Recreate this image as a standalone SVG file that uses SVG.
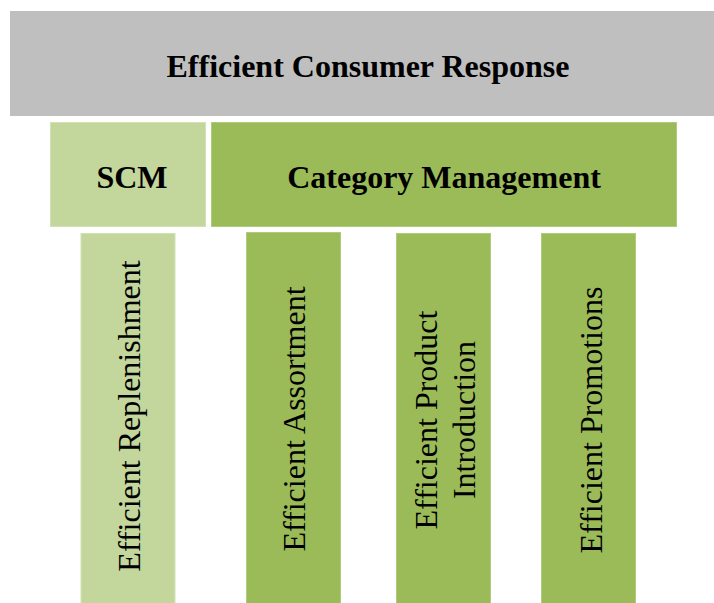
<svg xmlns="http://www.w3.org/2000/svg" width="714" height="603" viewBox="0 0 714 603">
  <style>
    .gray { fill: #BFBFBF; }
    .light { fill: #C3D69B; stroke: #d3e2b4; stroke-width: 1; }
    .green { fill: #9BBB59; stroke: #b0cb7c; stroke-width: 1; }
    .head { font-family: "Liberation Serif", "Times New Roman", serif; font-weight: bold; font-size: 32px; fill: #000; text-anchor: middle; }
    .pillar { font-family: "Liberation Serif", "Times New Roman", serif; font-size: 32px; fill: #000; text-anchor: middle; }
  </style>
  <rect width="714" height="603" fill="#ffffff"/>

  <g id="ecr">
    <rect class="gray" x="10" y="11" width="704" height="105"/>
    <text class="head" x="368" y="77">Efficient Consumer Response</text>
  </g>

  <g id="scm">
    <rect class="light" x="50.5" y="122.5" width="155" height="104"/>
    <text class="head" x="132" y="188">SCM</text>
  </g>

  <g id="category-management">
    <rect class="green" x="211.5" y="122.5" width="465" height="104"/>
    <text class="head" x="444" y="188">Category Management</text>
  </g>

  <g id="efficient-replenishment">
    <rect class="light" x="81" y="233.5" width="94" height="370"/>
    <text class="pillar" transform="translate(140,416) rotate(-90)">Efficient Replenishment</text>
  </g>

  <g id="efficient-assortment">
    <rect class="green" x="246.5" y="232.5" width="94" height="371"/>
    <text class="pillar" transform="translate(305,419) rotate(-90)">Efficient Assortment</text>
  </g>

  <g id="efficient-product-introduction">
    <rect class="green" x="396.5" y="233.5" width="94" height="370"/>
    <text class="pillar" transform="translate(436.5,420) rotate(-90)">Efficient Product</text>
    <text class="pillar" transform="translate(475,420) rotate(-90)">Introduction</text>
  </g>

  <g id="efficient-promotions">
    <rect class="green" x="541.5" y="233.5" width="94" height="370"/>
    <text class="pillar" transform="translate(601.5,420) rotate(-90)">Efficient Promotions</text>
  </g>

  <g id="connectors"></g>
</svg>
